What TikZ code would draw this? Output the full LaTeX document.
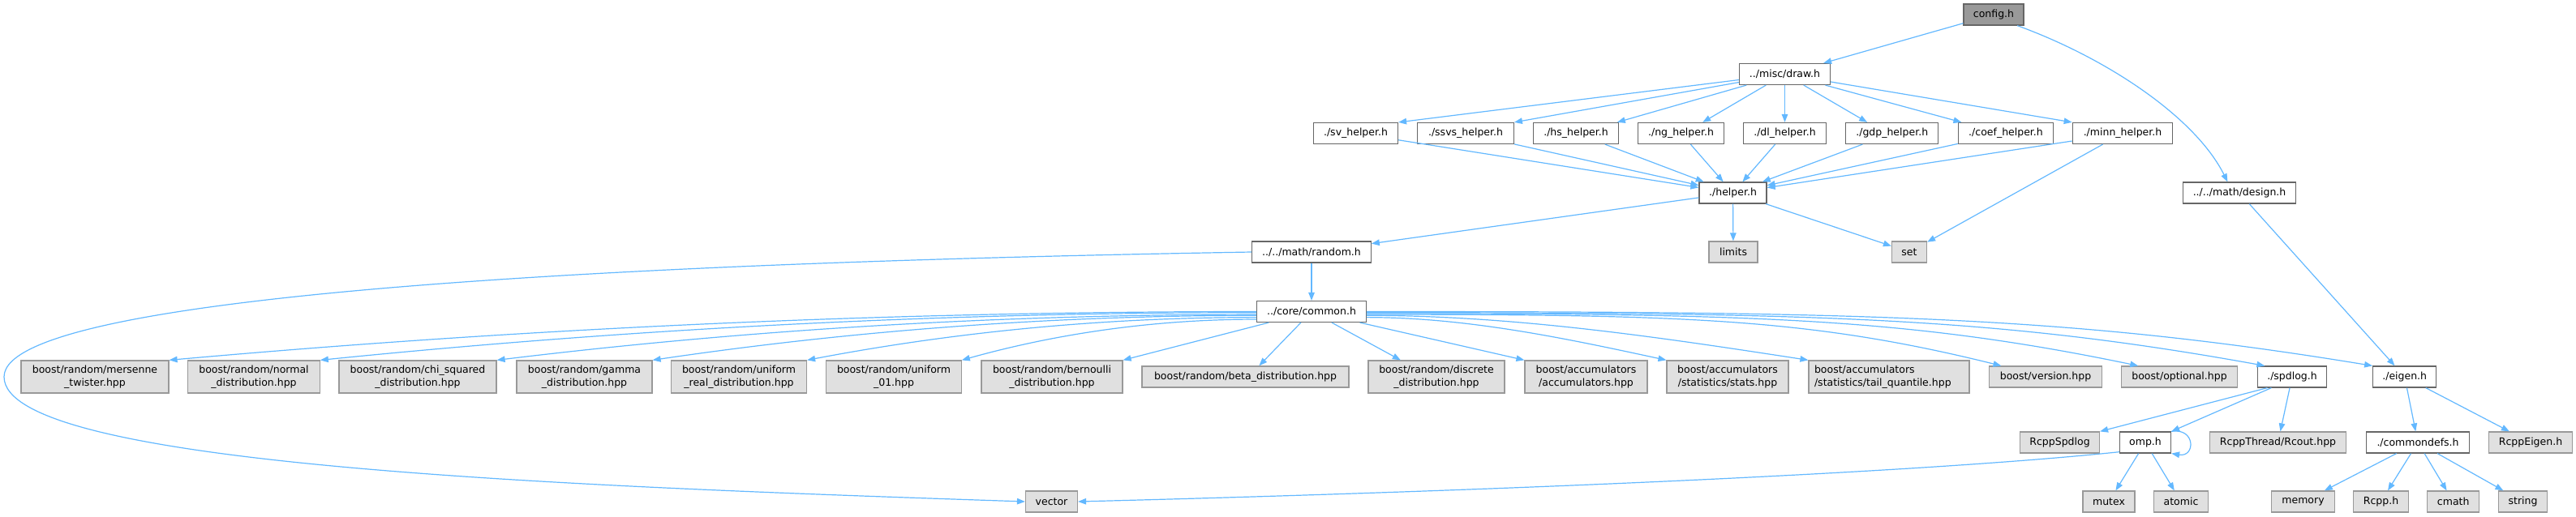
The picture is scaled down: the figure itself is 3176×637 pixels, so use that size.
\documentclass[tikz,border=0pt]{standalone}
\usepackage{fontspec}
\setmainfont{DejaVu Sans}
\usetikzlibrary{arrows.meta}
\definecolor{edgeblue}{HTML}{63B8FF}
\definecolor{bordint}{HTML}{666666}
\definecolor{bordext}{HTML}{999999}
\definecolor{fillext}{HTML}{E0E0E0}
\definecolor{fillcur}{HTML}{999999}
\tikzset{
  base/.style={rectangle, inner sep=0pt, minimum height=26pt, line width=1.2pt, align=center,
    font=\fontsize{12.5pt}{15.5pt}\selectfont, text=black},
  intnode/.style={base, draw=bordint, fill=white},
  extnode/.style={base, draw=bordext, fill=fillext},
  curnode/.style={base, draw=bordint, fill=fillcur},
  two/.style={minimum height=40pt},
  edgeline/.style={draw=edgeblue, line width=1.2pt},
  edge/.style={edgeline, -{Triangle[length=10pt,width=7.5pt]}},
}
\begin{document}
\begin{tikzpicture}[x=1pt,y=-1pt]
\useasboundingbox (0,0) rectangle (3176,637);
% row 0-1
\node[curnode, minimum width=74pt] (cfg) at (2458,18) {config.h};
\node[intnode, minimum width=112pt] (drw) at (2200.5,91.5) {../misc/draw.h};
% helpers row
\node[intnode, minimum width=104pt] (sv) at (1671.5,164.5) {./sv\_helper.h};
\node[intnode, minimum width=118.6pt] (ssvs) at (1807,164.5) {./ssvs\_helper.h};
\node[intnode, minimum width=104.6pt] (hs) at (1943,164.5) {./hs\_helper.h};
\node[intnode, minimum width=106pt] (ng) at (2072.5,164.5) {./ng\_helper.h};
\node[intnode, minimum width=102pt] (dl) at (2200.5,164.5) {./dl\_helper.h};
\node[intnode, minimum width=114pt] (gdp) at (2332.7,164.5) {./gdp\_helper.h};
\node[intnode, minimum width=117pt] (coef) at (2473,164.5) {./coef\_helper.h};
\node[intnode, minimum width=123.5pt] (minn) at (2617,164.5) {./minn\_helper.h};
% row 3
\node[intnode, minimum width=83pt] (hlp) at (2136.5,238) {./helper.h};
\node[intnode, minimum width=139pt] (dsg) at (2761,238) {../../math/design.h};
% row 4
\node[intnode, minimum width=146.5pt] (rnd) at (1617,311) {../../math/random.h};
\node[extnode, minimum width=60pt] (lim) at (2137,311) {limits};
\node[extnode, minimum width=43pt] (sett) at (2354,311) {set};
% row 5
\node[intnode, minimum width=134.5pt] (com) at (1617,384.5) {../core/common.h};
% row 6
\node[extnode, two, minimum width=182pt] (mer) at (117,465) {boost/random/mersenne\\\_twister.hpp};
\node[extnode, two, minimum width=162.5pt] (nor) at (313,465) {boost/random/normal\\\_distribution.hpp};
\node[extnode, two, minimum width=194pt] (chi) at (515,465) {boost/random/chi\_squared\\\_distribution.hpp};
\node[extnode, two, minimum width=167pt] (gam) at (720.5,465) {boost/random/gamma\\\_distribution.hpp};
\node[extnode, two, minimum width=167pt] (urd) at (911,465) {boost/random/uniform\\\_real\_distribution.hpp};
\node[extnode, two, minimum width=166.5pt] (u01) at (1102,465) {boost/random/uniform\\\_01.hpp};
\node[extnode, two, minimum width=174pt] (bern) at (1297,465) {boost/random/bernoulli\\\_distribution.hpp};
\node[extnode, minimum width=255pt] (beta) at (1535.5,465) {boost/random/beta\_distribution.hpp};
\node[extnode, two, minimum width=168pt] (disc) at (1771,465) {boost/random/discrete\\\_distribution.hpp};
\node[extnode, two, minimum width=151pt] (acc) at (1955.5,465) {boost/accumulators\\/accumulators.hpp};
\node[extnode, two, minimum width=150pt] (sta) at (2130,465) {boost/accumulators\\/statistics/stats.hpp};
\node[extnode, two, text width=184pt, inner xsep=7pt, align=left] (tai) at (2329,465) {boost/accumulators\\/statistics/tail\_quantile.hpp};
\node[extnode, minimum width=139pt] (ver) at (2522,465) {boost/version.hpp};
\node[extnode, minimum width=143pt] (opt) at (2687,465) {boost/optional.hpp};
\node[intnode, minimum width=85pt] (spd) at (2826,465) {./spdlog.h};
\node[intnode, minimum width=78pt] (eig) at (2964.7,465) {./eigen.h};
% row 7
\node[extnode, minimum width=98pt] (rsp) at (2539.5,546) {RcppSpdlog};
\node[intnode, minimum width=63pt] (omp) at (2645,546) {omp.h};
\node[extnode, minimum width=168pt] (rco) at (2808.5,546) {RcppThread/Rcout.hpp};
\node[intnode, minimum width=127pt] (cdf) at (2981,546) {./commondefs.h};
\node[extnode, minimum width=103pt] (rei) at (3120,546) {RcppEigen.h};
% row 8
\node[extnode, minimum width=64pt] (vec) at (1296.5,619) {vector};
\node[extnode, minimum width=64pt] (mtx) at (2600,619) {mutex};
\node[extnode, minimum width=67pt] (atm) at (2689,619) {atomic};
\node[extnode, minimum width=77.5pt] (mem) at (2839.5,619) {memory};
\node[extnode, minimum width=68pt] (rcp) at (2935.5,619) {Rcpp.h};
\node[extnode, minimum width=64pt] (cma) at (3024.7,619) {cmath};
\node[extnode, minimum width=60pt] (str) at (3110.5,619) {string};
\coordinate (loopL) at (5,465);

% edges
\draw[edge] (cfg) -- (drw);
\draw[edge] (cfg.-25) .. controls +(110,40) and +(-40,-80) .. (dsg.137);
\draw[edge] (drw) -- (sv.north east);
\draw[edge] (drw) -- (ssvs.north east);
\draw[edge] (drw) -- (hs.15);
\draw[edge] (drw) -- (ng.27);
\draw[edge] (drw) -- (dl);
\draw[edge] (drw) -- (gdp.156);
\draw[edge] (drw) -- (coef.166);
\draw[edge] (drw) -- (minn.north west);
\foreach \n in {sv,ssvs,hs,ng,dl,gdp,coef,minn} { \draw[edge] (\n) -- (hlp); }
\draw[edge] (minn) -- (sett);
\draw[edge] (hlp) -- (rnd);
\draw[edge] (hlp) -- (lim);
\draw[edge] (hlp) -- (sett);
\draw[edge] (dsg) -- (eig);
\draw[edge] (rnd) -- (com);
% random.h -> vector, round the far left
\draw[edge] (rnd.west) .. controls +(-644,11) and +(0,-110) .. (loopL)
   .. controls +(0,110) and +(-564.7,-19) .. (vec.west);
% common fan left
\draw[edge] (com.180) .. controls +(-447,0) and +(447,-40) .. (mer.north east);
\draw[edge] (com.181.5) .. controls +(-385,0) and +(385,-39) .. (nor.north east);
\draw[edge] (com.183) .. controls +(-312,0) and +(312,-38) .. (chi.north east);
\draw[edge] (com.184.5) .. controls +(-248,0) and +(248,-36.7) .. (gam.north east);
\draw[edge] (com.186.5) .. controls +(-185,0) and +(185,-35.3) .. (urd.north east);
\draw[edge] (com.188) .. controls +(-121.5,0) and +(121.5,-34) .. (u01.north east);
\draw[edge] (com) -- (bern.north east);
\draw[edge] (com) -- (beta.39);
\draw[edge] (com) -- (disc.155);
\draw[edge] (com) -- (acc.north west);
% common fan right
\draw[edge] (com.-6) .. controls +(123.5,0) and +(-123.5,-26.7) .. (sta.north west);
\draw[edge] (com.-4) .. controls +(182,0) and +(-182,-28) .. (tai.north west);
\draw[edge] (com.-3) .. controls +(393,0) and +(-236,-58.5) .. (ver.166);
\draw[edge] (com.-2) .. controls +(476,0) and +(-286,-59.4) .. (opt.165);
\draw[edge] (com.-1) .. controls +(555,0) and +(-333,-60.3) .. (spd.158);
\draw[edge] (com.east) .. controls +(621,0) and +(-372,-61.2) .. (eig.north west);
% spdlog
\draw[edge] (spd.-156) -- (rsp.north east);
\draw[edge] (spd.-152) -- (omp.north east);
\draw[edge] (spd) -- (rco);
\draw[edge] (omp.north east) .. controls +(30,-5) and +(30,5) .. (omp.south east);
\draw[edge] (omp) -- (mtx);
\draw[edge] (omp) -- (atm);
\draw[edge] (omp.-160) .. controls +(-263.5,27.5) and +(471.5,-12) .. (vec.east);
% eigen
\draw[edge] (eig) -- (cdf);
\draw[edge] (eig) -- (rei);
\draw[edge] (cdf) -- (mem);
\draw[edge] (cdf) -- (rcp);
\draw[edge] (cdf) -- (cma);
\draw[edge] (cdf) -- (str);
\end{tikzpicture}
\end{document}
